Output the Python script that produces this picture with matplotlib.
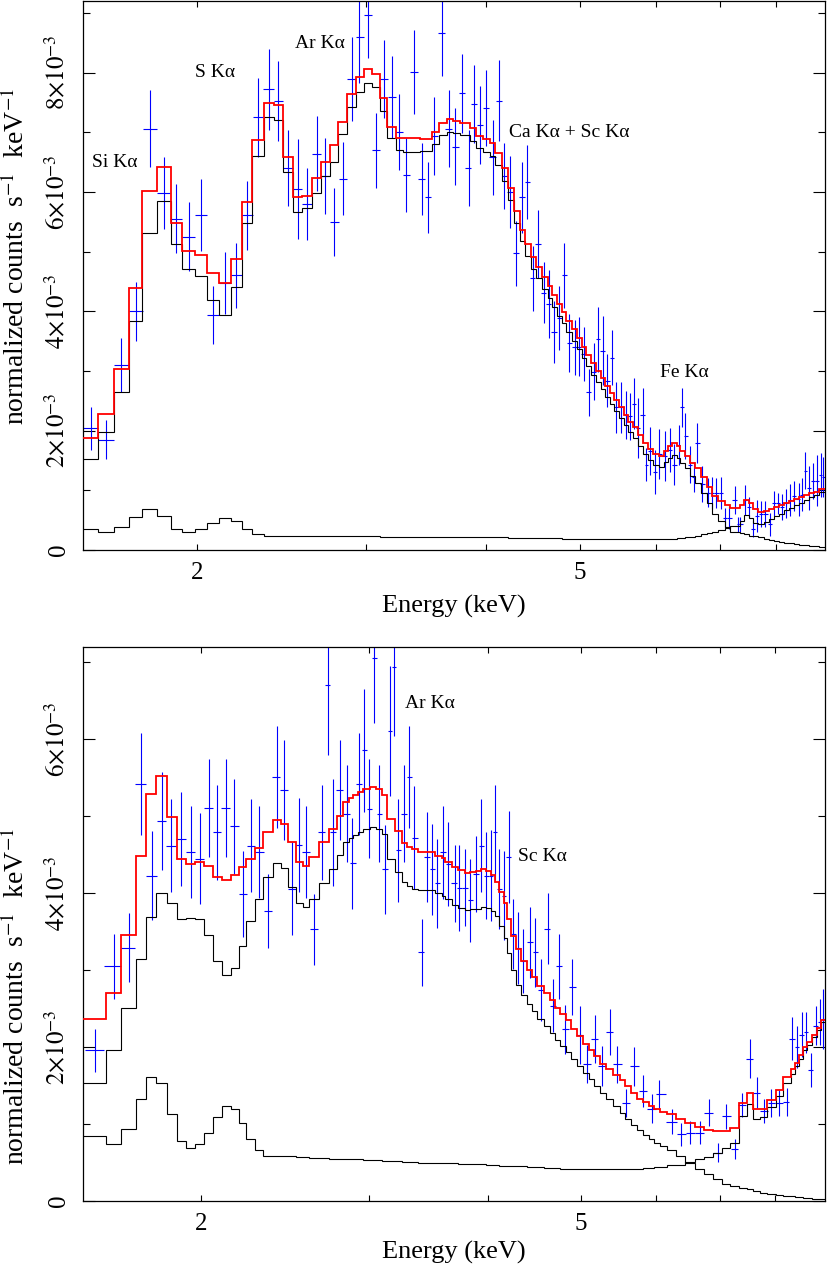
import numpy as np
import matplotlib
matplotlib.use("Agg")
import matplotlib.pyplot as plt
from matplotlib.ticker import FixedLocator, FuncFormatter, NullFormatter

plt.rcParams['font.family'] = ['Liberation Serif', 'DejaVu Serif']
plt.rcParams['mathtext.fontset'] = 'stix'

# ---------------- panel 1 (rates in units of 1e-3 counts/s/keV) ----------------
p1_edges = [1.522, 1.579, 1.639, 1.699, 1.754, 1.816, 1.877, 1.930, 1.990, 2.050, 2.108, 2.169,
            2.228, 2.284, 2.346, 2.402, 2.459,
            2.515, 2.574, 2.633, 2.692, 2.750, 2.806, 2.867, 2.928, 2.984, 3.040, 3.101, 3.156,
            3.220, 3.279, 3.346, 3.413, 3.510, 3.572, 3.638, 3.691, 3.757, 3.847,
            3.903, 3.967, 4.030, 4.085, 4.152, 4.208, 4.268, 4.330, 4.383, 4.450, 4.507, 4.569,
            4.631, 4.680, 4.736, 4.793, 4.843, 4.909, 4.969, 5.028, 5.081, 5.138, 5.204, 5.263,
            5.318, 5.373, 5.434, 5.489, 5.556, 5.615, 5.682, 5.746, 5.820, 5.885, 5.961, 6.043,
            6.115, 6.173, 6.239, 6.314, 6.365, 6.430, 6.508, 6.598, 6.693, 6.785, 6.868, 6.960,
            7.090, 7.175, 7.349, 7.409, 7.498, 7.576, 7.661, 7.772,
            7.866, 7.961, 8.057, 8.154, 8.252, 8.351, 8.452, 8.554, 8.657, 8.761, 8.867, 9.0]

p1_total = [1.88, 2.28, 3.04, 4.39, 6.01, 6.42, 5.48, 5.01, 4.94, 4.64, 4.48, 4.88, 5.84, 6.87, 7.49, 7.45,
            6.58, 5.91, 5.94, 6.23, 6.50, 6.78, 7.18, 7.64, 7.92, 8.06, 7.98, 7.58, 7.09, 6.91, 6.90,
            6.90, 6.88, 7.00, 7.15, 7.22, 7.19, 7.15,
            7.07, 6.94, 6.88, 6.82, 6.66, 6.40, 6.06, 5.68, 5.37, 5.12, 4.91, 4.75, 4.57, 4.42, 4.27,
            4.12, 3.99, 3.84, 3.70, 3.55, 3.41, 3.27, 3.13, 3.00, 2.88, 2.75, 2.63, 2.51, 2.39, 2.27,
            2.15, 2.06, 1.93, 1.79, 1.69, 1.61,
            1.57, 1.66, 1.74, 1.79, 1.74, 1.66, 1.58, 1.46, 1.37, 1.22, 1.06, 0.91, 0.82, 0.75, 0.70,
            0.76, 0.84, 0.78, 0.69, 0.64,
            0.66, 0.69, 0.72, 0.75, 0.79, 0.82, 0.85, 0.88, 0.92, 0.95, 0.98, 1.02]

p1_source = [1.52, 1.98, 2.65, 3.84, 5.32, 5.85, 5.12, 4.71, 4.59, 4.19, 3.94, 4.40, 5.48, 6.60, 7.25, 7.21,
             6.34, 5.67, 5.73, 5.99, 6.27, 6.51, 6.97, 7.42, 7.68, 7.83, 7.76, 7.36, 6.90, 6.70, 6.67,
             6.67, 6.69, 6.81, 6.96, 7.01, 6.99, 6.96,
             6.86, 6.73, 6.67, 6.61, 6.45, 6.19, 5.86, 5.48, 5.17, 4.92, 4.71, 4.55, 4.37, 4.22, 4.07,
             3.92, 3.80, 3.65, 3.51, 3.36, 3.22, 3.08, 2.94, 2.81, 2.69, 2.56, 2.45, 2.33, 2.21, 2.09,
             1.97, 1.88, 1.75, 1.61, 1.51, 1.43,
             1.39, 1.47, 1.55, 1.60, 1.54, 1.46, 1.37, 1.24, 1.13, 0.96, 0.78, 0.60, 0.48, 0.38, 0.30,
             0.28, 0.26, 0.24, 0.23, 0.21,
             0.19, 0.17, 0.15, 0.14, 0.12, 0.11, 0.10, 0.09, 0.08, 0.07, 0.06, 0.05]

p1_bkg = [0.36, 0.30, 0.39, 0.55, 0.69, 0.57, 0.36, 0.30, 0.35, 0.45, 0.54, 0.48, 0.36, 0.27, 0.24, 0.24,
          0.24, 0.24, 0.24, 0.24, 0.23, 0.23, 0.23, 0.23, 0.23, 0.23, 0.23, 0.22, 0.22, 0.22, 0.22,
          0.22, 0.22, 0.21, 0.21, 0.21, 0.21, 0.21,
          0.21, 0.21, 0.21, 0.21, 0.21, 0.21, 0.20, 0.20, 0.20, 0.20, 0.20, 0.20, 0.20, 0.20, 0.20,
          0.20, 0.19, 0.19, 0.19, 0.19, 0.19, 0.19, 0.19, 0.19, 0.19, 0.19, 0.18, 0.18, 0.18, 0.18,
          0.18, 0.18, 0.18, 0.18, 0.18, 0.18,
          0.18, 0.19, 0.19, 0.19, 0.20, 0.20, 0.21, 0.22, 0.24, 0.26, 0.28, 0.31, 0.34, 0.37, 0.40,
          0.48, 0.58, 0.54, 0.46, 0.43,
          0.47, 0.52, 0.57, 0.61, 0.67, 0.71, 0.75, 0.79, 0.84, 0.88, 0.92, 0.97]

p1_data_e = [1.550, 1.609, 1.669, 1.727, 1.785, 1.846, 1.903, 1.960, 2.020, 2.079, 2.138, 2.198,
             2.256, 2.315, 2.374, 2.430,
             2.486, 2.546, 2.601, 2.665, 2.720, 2.779, 2.836, 2.898, 2.951, 3.011, 3.072, 3.131,
             3.190, 3.248, 3.301, 3.365, 3.427, 3.477, 3.532, 3.595, 3.653, 3.712, 3.772, 3.832,
             3.885, 3.941, 3.998, 4.059, 4.125, 4.175, 4.235, 4.293, 4.356, 4.408, 4.467, 4.525,
             4.587, 4.642, 4.706, 4.763, 4.820, 4.878, 4.946, 4.996, 5.048, 5.109, 5.170, 5.226,
             5.284, 5.340, 5.404, 5.459, 5.521, 5.588, 5.645, 5.691, 5.750, 5.815, 5.867, 5.923,
             5.985, 6.052,
             6.139, 6.203, 6.274, 6.339, 6.391, 6.442, 6.508, 6.571, 6.624, 6.704, 6.796, 6.868,
             6.938, 7.017, 7.090, 7.145, 7.262, 7.302, 7.349, 7.438, 7.498, 7.576, 7.650, 7.730,
             7.803, 7.884, 7.961, 8.046, 8.122, 8.188, 8.271, 8.351, 8.452, 8.520, 8.589, 8.671,
             8.749, 8.834, 8.904, 8.961]

p1_data_rate = [2.04, 1.85, 3.10, 4.00, 7.06, 5.98, 5.55, 5.25, 5.61, 3.94, 4.48, 4.60, 5.61, 7.25, 7.72, 7.53,
                6.40, 6.05, 5.80, 6.64, 6.27, 5.49, 6.22, 7.89, 8.60, 8.97, 6.70, 7.89, 7.59, 7.00, 6.28,
                8.01, 6.22, 5.91, 6.94, 8.67, 7.06, 6.76, 7.65, 6.40,
                7.47, 7.12, 7.41, 6.58, 7.53, 6.27, 6.00, 4.97, 5.91, 6.16, 4.55, 5.13, 4.31, 4.12, 3.65,
                3.89, 4.60, 3.47, 3.40, 3.41, 3.28, 2.64, 2.99, 3.53, 3.34, 2.84, 3.22, 2.39, 2.39, 2.26,
                2.24, 2.45, 2.04, 2.26, 1.43, 1.66, 1.31, 1.61,
                1.58, 1.68, 1.43, 1.76, 2.39, 1.91, 1.43, 1.22, 1.79, 1.10, 0.96, 0.96, 0.96, 0.96, 0.54,
                0.54, 0.84, 0.43, 0.43, 0.84, 0.72, 0.36, 0.57, 0.60, 0.60, 0.43, 0.78, 0.78, 0.72, 0.78,
                0.84, 0.90, 0.85, 0.93, 1.33, 1.04, 1.16, 1.16, 1.25, 1.22]

p1_data_err = [0.36, 0.33, 0.45, 0.49, 0.65, 0.60, 0.58, 0.58, 0.60, 0.49, 0.52, 0.54, 0.58, 0.66, 0.68, 0.67,
               0.63, 0.84, 0.60, 0.63, 0.64, 0.57, 0.61, 0.70, 0.78, 0.73, 0.63, 0.65, 0.69, 0.64, 0.62,
               0.70, 0.60, 0.59, 0.65, 0.73, 0.65, 0.64, 0.67, 0.63,
               0.65, 0.65, 0.64, 0.63, 0.68, 0.55, 0.60, 0.55, 0.60, 0.62, 0.55, 0.57, 0.51, 0.57, 0.52,
               0.54, 0.54, 0.49, 0.46, 0.49, 0.45, 0.39, 0.48, 0.55, 0.58, 0.44, 0.46, 0.43, 0.43, 0.40,
               0.39, 0.43, 0.50, 0.45, 0.28, 0.40, 0.37, 0.42,
               0.42, 0.37, 0.34, 0.34, 0.33, 0.39, 0.31, 0.25, 0.33, 0.30, 0.24, 0.27, 0.25, 0.27, 0.17,
               0.19, 0.24, 0.12, 0.12, 0.25, 0.16, 0.14, 0.27, 0.22, 0.22, 0.19, 0.21, 0.18, 0.22, 0.25,
               0.27, 0.25, 0.28, 0.27, 0.31, 0.37, 0.30, 0.43, 0.37, 0.34]

p1_lines = ["Si K\u03b1", "S K\u03b1", "Ar K\u03b1", "Ca K\u03b1 + Sc K\u03b1", "Fe K\u03b1"]

# ---------------- panel 2 ----------------
p2_edges = [1.505, 1.592, 1.651, 1.709, 1.754, 1.797, 1.841, 1.886, 1.929, 1.971, 2.016, 2.060,
            2.106, 2.149, 2.192, 2.233, 2.282, 2.325, 2.382,
            2.425, 2.466, 2.516, 2.557, 2.598, 2.662, 2.727, 2.776, 2.817, 2.862, 2.890, 2.925,
            2.960, 3.008, 3.052, 3.095, 3.137, 3.196, 3.248, 3.288, 3.328, 3.381, 3.436, 3.520,
            3.578, 3.606, 3.665, 3.724, 3.785, 3.831,
            3.887, 3.931, 3.982, 4.027, 4.069, 4.112, 4.152, 4.186, 4.227, 4.281, 4.333, 4.393,
            4.447, 4.501, 4.573, 4.640, 4.705, 4.761, 4.831, 4.886, 4.957, 5.030, 5.098, 5.160,
            5.235, 5.321, 5.408, 5.495, 5.571, 5.653, 5.731, 5.815, 5.895, 5.966, 6.063,
            6.162, 6.301, 6.441, 6.598, 6.743, 6.885, 7.031, 7.180, 7.325, 7.475, 7.585, 7.706,
            7.846, 8.005, 8.156, 8.300, 8.381, 8.470, 8.560, 8.643, 8.747, 8.838, 8.924, 9.017]

p2_total = [2.36, 2.70, 3.46, 4.48, 5.29, 5.52, 4.99, 4.45, 4.38, 4.41, 4.35, 4.21, 4.17, 4.24, 4.34,
            4.45, 4.59, 4.80,
            4.95, 4.90, 4.66, 4.41, 4.36, 4.47, 4.66, 4.84, 5.01, 5.19, 5.24, 5.28, 5.32, 5.35, 5.38,
            5.36, 5.28, 4.96, 4.81, 4.65, 4.60, 4.57, 4.54, 4.53, 4.49, 4.46, 4.41, 4.34, 4.30, 4.26,
            4.27, 4.29, 4.31, 4.29, 4.24, 4.15, 4.02, 3.87, 3.66, 3.44, 3.27, 3.12, 3.00, 2.91, 2.80,
            2.70, 2.61, 2.51, 2.43, 2.35, 2.24, 2.14, 2.04, 1.96, 1.88, 1.78, 1.71, 1.64, 1.57, 1.49,
            1.41, 1.33, 1.29, 1.24, 1.19,
            1.16, 1.13, 1.06, 1.01, 0.96, 0.92, 0.91, 0.91, 0.95, 1.27, 1.41, 1.19, 1.20, 1.31, 1.44,
            1.61, 1.71, 1.80, 1.90, 2.00, 2.07, 2.16, 2.25, 2.35]

p2_source = [1.53, 1.96, 2.51, 3.15, 3.69, 4.00, 3.87, 3.66, 3.68, 3.66, 3.46, 3.12, 2.94, 3.03, 3.32,
             3.64, 3.93, 4.21,
             4.39, 4.33, 4.08, 3.87, 3.82, 3.93, 4.13, 4.32, 4.50, 4.66, 4.72, 4.76, 4.80, 4.83, 4.86,
             4.84, 4.77, 4.45, 4.28, 4.14, 4.09, 4.06, 4.04, 4.04, 4.00, 3.97, 3.92, 3.85, 3.81, 3.78,
             3.79, 3.80, 3.82, 3.81, 3.77, 3.70, 3.58, 3.42, 3.22, 3.00, 2.81, 2.68, 2.56, 2.47, 2.37,
             2.28, 2.18, 2.09, 2.02, 1.94, 1.84, 1.75, 1.66, 1.58, 1.50, 1.40, 1.32, 1.23, 1.15, 1.07,
             0.99, 0.92, 0.86, 0.80, 0.75,
             0.72, 0.66, 0.59, 0.50, 0.42, 0.35, 0.28, 0.22, 0.19, 0.17, 0.15, 0.13, 0.11, 0.09, 0.08,
             0.07, 0.06, 0.05, 0.05, 0.04, 0.04, 0.03, 0.03, 0.02]

p2_bkg = [0.84, 0.74, 0.94, 1.33, 1.61, 1.53, 1.13, 0.78, 0.69, 0.74, 0.89, 1.09, 1.23, 1.20, 1.02,
          0.81, 0.66, 0.59,
          0.58, 0.58, 0.58, 0.57, 0.57, 0.56, 0.56, 0.55, 0.55, 0.55, 0.54, 0.54, 0.54, 0.53, 0.53,
          0.53, 0.52, 0.52, 0.52, 0.51, 0.51, 0.51, 0.50, 0.50, 0.50, 0.49, 0.49, 0.49, 0.48, 0.48,
          0.48, 0.48, 0.48, 0.47, 0.47, 0.47, 0.46, 0.46, 0.46, 0.45, 0.45, 0.45, 0.44, 0.44, 0.44,
          0.43, 0.43, 0.43, 0.42, 0.42, 0.42, 0.42, 0.41, 0.41, 0.41, 0.41, 0.41, 0.41, 0.41, 0.42,
          0.42, 0.42, 0.43, 0.43, 0.44,
          0.44, 0.47, 0.47, 0.51, 0.54, 0.57, 0.63, 0.69, 0.76, 1.10, 1.26, 1.06, 1.09, 1.22, 1.36,
          1.54, 1.65, 1.75, 1.85, 1.96, 2.03, 2.13, 2.22, 2.33]

p2_data_e = [1.548, 1.622, 1.681, 1.730, 1.776, 1.819, 1.861, 1.907, 1.951, 1.995, 2.039, 2.080,
             2.124, 2.168, 2.215, 2.257, 2.301, 2.353, 2.401,
             2.444, 2.494, 2.534, 2.578, 2.630, 2.681, 2.716, 2.749, 2.799, 2.844, 2.883, 2.930,
             2.968, 3.004, 3.040, 3.075, 3.120, 3.158, 3.186, 3.222, 3.269, 3.309, 3.349, 3.409,
             3.450, 3.497, 3.540, 3.586, 3.635, 3.689, 3.733, 3.785,
             3.831, 3.887, 3.931, 3.982, 4.027, 4.069, 4.112, 4.152, 4.203, 4.247, 4.304, 4.357,
             4.428, 4.482, 4.548, 4.618, 4.678, 4.742, 4.820, 4.898, 4.989, 5.078, 5.173, 5.267,
             5.364, 5.461, 5.581, 5.695, 5.810, 5.942, 6.049,
             6.236, 6.379, 6.518, 6.667, 6.813, 6.963, 7.111, 7.255, 7.386, 7.522, 7.646, 7.781,
             7.922, 8.069, 8.221, 8.334, 8.436, 8.524, 8.607, 8.710, 8.817, 8.909, 8.983]

p2_data_rate = [1.96, 3.05, 3.29, 5.42, 4.23, 4.94, 4.62, 4.70, 4.54, 4.45, 5.11, 4.79, 5.11, 4.87, 3.99,
                4.62, 4.54, 3.77, 5.51,
                5.34, 4.06, 4.63, 4.54, 3.53, 4.79, 6.70, 4.79, 5.34, 5.03, 4.39, 5.42, 5.86, 5.10, 7.06,
                5.03, 4.31, 6.11, 6.94, 4.56, 5.03, 5.51, 4.72, 3.23, 4.47, 4.31, 4.13, 4.53, 4.38, 4.13,
                4.07, 4.07,
                3.91, 4.25, 4.62, 4.23, 4.23, 4.79, 4.06, 3.97, 4.47, 3.47, 3.29, 3.12, 3.36, 3.23, 2.74,
                3.54, 2.54, 3.05, 2.23, 2.78, 2.16, 1.78, 2.11, 1.76, 2.20, 1.78, 1.27, 1.75, 1.43, 1.20,
                1.39,
                1.03, 0.87, 0.89, 0.89, 1.15, 0.63, 1.10, 0.68, 1.25, 1.85, 1.41, 1.17, 1.27, 1.27, 1.29,
                2.11, 2.00, 2.16, 2.19, 1.70, 2.28, 2.33, 2.37]

p2_data_err = [0.28, 0.42, 0.45, 0.66, 0.58, 0.64, 0.61, 0.61, 0.60, 0.59, 0.64, 0.62, 0.64, 0.62, 0.56,
               0.61, 0.60, 0.48, 0.66,
               0.65, 0.60, 0.61, 0.60, 0.46, 0.62, 0.90, 0.69, 0.65, 0.63, 0.59, 0.66, 0.80, 0.64, 0.85,
               0.63, 0.58, 0.84, 0.90, 0.67, 0.63, 0.66, 0.67, 0.43, 0.58, 0.59, 0.58, 0.60, 0.55, 0.50,
               0.56, 0.50,
               0.54, 0.50, 0.61, 0.56, 0.59, 0.62, 0.52, 0.58, 0.60, 0.46, 0.47, 0.42, 0.46, 0.45, 0.40,
               0.46, 0.34, 0.42, 0.32, 0.36, 0.38, 0.25, 0.31, 0.26, 0.30, 0.24, 0.18, 0.25, 0.21, 0.19,
               0.18,
               0.16, 0.15, 0.15, 0.15, 0.17, 0.12, 0.16, 0.13, 0.16, 0.25, 0.20, 0.16, 0.18, 0.17, 0.18,
               0.28, 0.27, 0.29, 0.27, 0.22, 0.25, 0.30, 0.39]

p2_lines = ["Ar K\u03b1", "Sc K\u03b1"]


def bin_halfwidths(e):
    """Half distance to neighbouring data bins, used for the horizontal bars."""
    e = np.asarray(e)
    d = np.diff(e) / 2
    return np.vstack([np.concatenate([[d[0]], d]), np.concatenate([d, [d[-1]]])])


def ytick_label(v, pos):
    if abs(v) < 1e-9:
        return "0"
    return r"$%d{\times}10^{-3}$" % round(v)


def draw_panel(ax, edges, total, src, bkg, de, drate, derr, xlim, ytop,
               lines, line_pos, xlab_y, ylab_y):
    ax.errorbar(de, drate, yerr=derr, xerr=bin_halfwidths(de), fmt='none',
                ecolor='#0000ff', elinewidth=0.8, capsize=0, zorder=2)
    ax.stairs(bkg, edges, baseline=None, color='black', lw=0.8, zorder=3)
    ax.stairs(src, edges, baseline=None, color='black', lw=0.8, zorder=3)
    ax.stairs(total, edges, baseline=None, color='#ff0000', lw=1.3, zorder=4)

    ax.set_xscale('log')
    ax.set_xlim(*xlim)
    ax.set_ylim(0, ytop)
    ax.xaxis.set_major_locator(FixedLocator([2, 5]))
    ax.xaxis.set_major_formatter(FuncFormatter(lambda v, p: "%d" % round(v)))
    ax.xaxis.set_minor_locator(FixedLocator([3, 4, 6, 7, 8]))
    ax.xaxis.set_minor_formatter(NullFormatter())
    ax.yaxis.set_major_locator(FixedLocator(np.arange(0, ytop, 2)))
    ax.yaxis.set_minor_locator(FixedLocator(np.arange(1, ytop, 2)))
    ax.yaxis.set_major_formatter(FuncFormatter(ytick_label))

    ax.tick_params(which='both', direction='in', top=True, right=True, width=0.8, labelsize=18)
    ax.tick_params(axis='x', which='both', length=4.5, pad=9)
    ax.tick_params(axis='y', which='major', length=8.5, pad=9.5)
    ax.tick_params(axis='y', which='minor', length=5)
    for lab in ax.get_yticklabels():
        lab.set_rotation(90)
        lab.set_va('center')
    for sp in ax.spines.values():
        sp.set_linewidth(0.9)

    ax.set_xlabel("Energy (keV)", fontsize=19)
    ax.set_ylabel(r"normalized counts  s$^{-1}$  keV$^{-1}$", fontsize=20)
    ax.xaxis.set_label_coords(0.5, xlab_y)
    ax.yaxis.set_label_coords(-0.071, ylab_y)

    for txt, (ex, ey) in zip(lines, line_pos):
        ax.text(ex, ey, txt, fontsize=14, ha='center', va='center', zorder=5)


fig = plt.figure(figsize=(8.3, 12.65), dpi=100)
ax1 = fig.add_axes([83 / 830, 1 - 550 / 1265, 742 / 830, 549 / 1265])
ax2 = fig.add_axes([83 / 830, 1 - 1201 / 1265, 742 / 830, 554 / 1265])

draw_panel(ax1, p1_edges, p1_total, p1_source, p1_bkg,
           p1_data_e, p1_data_rate, p1_data_err, (1.522, 9.0), 9.2,
           p1_lines, [(1.641, 6.49), (2.089, 8.00), (2.687, 8.49), (4.880, 7.00), (6.434, 2.97)],
           -0.081, 0.535)
draw_panel(ax2, p2_edges, p2_total, p2_source, p2_bkg,
           p2_data_e, p2_data_rate, p2_data_err, (1.505, 9.02), 7.2,
           p2_lines, [(3.479, 6.47), (4.559, 4.48)],
           -0.072, 0.37)

fig.savefig("out.png", dpi=100)
